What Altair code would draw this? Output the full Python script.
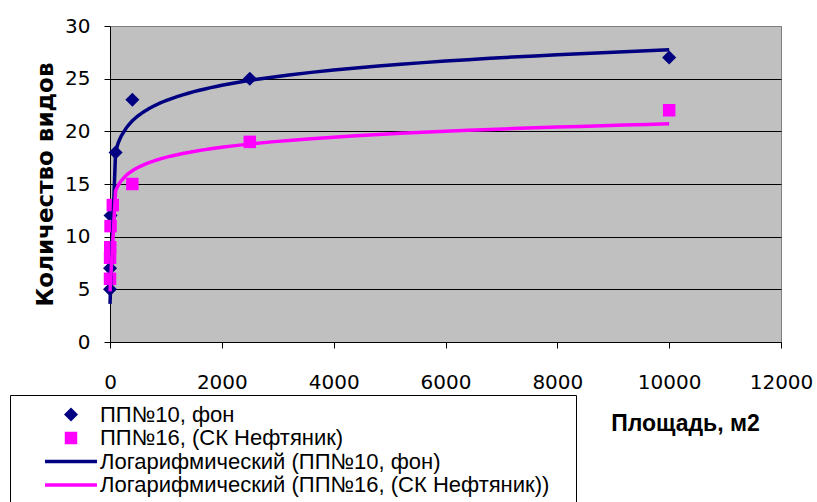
import altair as alt
import pandas as pd

# ---- data ----
S1 = "ПП№10, фон"
S2 = "ПП№16, (СК Нефтяник)"
T1 = "Логарифмический (ПП№10, фон)"
T2 = "Логарифмический (ПП№16, (СК Нефтяник))"

blue_x = [0.1, 1, 10, 100, 400, 2500, 10000]
blue_y = [5, 7, 12, 18, 23, 25, 27]
pink_x = [0.1, 1, 4, 10, 50, 400, 2500, 10000]
pink_y = [6, 8, 9, 11, 13, 15, 19, 22]

x_ticks = [0, 2000, 4000, 6000, 8000, 10000, 12000]
y_ticks = [0, 5, 10, 15, 20, 25, 30]

series_names = [S1, S2, T1, T2]
series_colors = ["#000080", "#FF00FF", "#000080", "#FF00FF"]

DIAMOND = "M0,-0.27L0.27,0L0,0.27L-0.27,0Z"
SQUARE = "M-0.24,-0.24H0.24V0.24H-0.24Z"
BAR = "M-1,-0.07H1V0.07H-1Z"
series_shapes = [DIAMOND, SQUARE, BAR, BAR]

df = pd.DataFrame({
    "x": blue_x + pink_x,
    "y": blue_y + pink_y,
    "series": [S1] * len(blue_x) + [S2] * len(pink_x),
})

FONT = "Liberation Sans"
TICKFONT = "DejaVu Sans"

color_scale = alt.Scale(domain=series_names, range=series_colors)
shape_scale = alt.Scale(domain=series_names, range=series_shapes)
xs = alt.Scale(domain=[0, 12000], nice=False, zero=False)
ys = alt.Scale(domain=[0, 30], nice=False)

x_axis = alt.Axis(
    values=x_ticks, format="d", title="Площадь, м2", grid=False,
    domainColor="black", tickColor="black", tickSize=6,
    labelFont=TICKFONT, labelFontSize=20, labelColor="black",
    labelBaseline="middle", labelPadding=34, labelFlush=False, labelOverlap=False,
    titleFont=FONT, titleFontSize=23, titleFontWeight="bold", titleColor="black",
    titleX=575, titleY=81, titleAlign="center", titleBaseline="middle",
)
y_axis = alt.Axis(
    values=y_ticks, format="d", title="Количество видов", grid=True,
    gridColor={"condition": {"test": "datum.value >= 30", "value": "#808080"}, "value": "#000000"},
    gridWidth=1, gridOpacity=1,
    domainColor="black", tickColor="black", tickSize=6,
    labelFont=TICKFONT, labelFontSize=20, labelColor="black", labelPadding=14,
    titleFont="DejaVu Sans", titleFontSize=23, titleFontWeight="bold", titleColor="black",
    titleX=-65, titleY=158, titleAngle=270, titleAlign="center", titleBaseline="middle",
)

legend = alt.Legend(
    title=" ", titleOrient="right", titlePadding=19, titleFontSize=22,
    orient="none", legendX=-100, legendY=369, direction="vertical",
    padding=8, strokeColor="black", fillColor="white", cornerRadius=0,
    symbolSize=2704, symbolStrokeWidth=0, symbolOffset=27, symbolOpacity=1,
    labelOffset=3, clipHeight=23, rowPadding=0.5,
    labelFont=FONT, labelFontSize=22, labelColor="black", labelLimit=1000,
)

points = alt.Chart(df).mark_point(filled=True, size=2704, opacity=1, strokeWidth=0).encode(
    x=alt.X("x:Q", scale=xs, axis=x_axis),
    y=alt.Y("y:Q", scale=ys, axis=y_axis),
    color=alt.Color("series:N", scale=color_scale, legend=legend),
    shape=alt.Shape("series:N", scale=shape_scale, legend=legend),
)

lines = alt.Chart(df).transform_regression(
    "x", "y", method="log", groupby=["series"]
).transform_calculate(
    trend='"Логарифмический (" + datum.series + ")"'
).mark_line(strokeWidth=3.5).encode(
    x=alt.X("x:Q", scale=xs),
    y=alt.Y("y:Q", scale=ys),
    color=alt.Color("trend:N", scale=color_scale, legend=None),
)

chart = alt.layer(points, lines).properties(
    width=671, height=316,
    padding={"left": 110, "top": 26, "right": 36, "bottom": 160},
    autosize=alt.AutoSizeParams(type="none"),
    background="white",
).configure_view(fill="#C0C0C0", stroke="#808080", strokeWidth=1)

chart.save("out.html", embed_options={"renderer": "svg", "actions": False})
